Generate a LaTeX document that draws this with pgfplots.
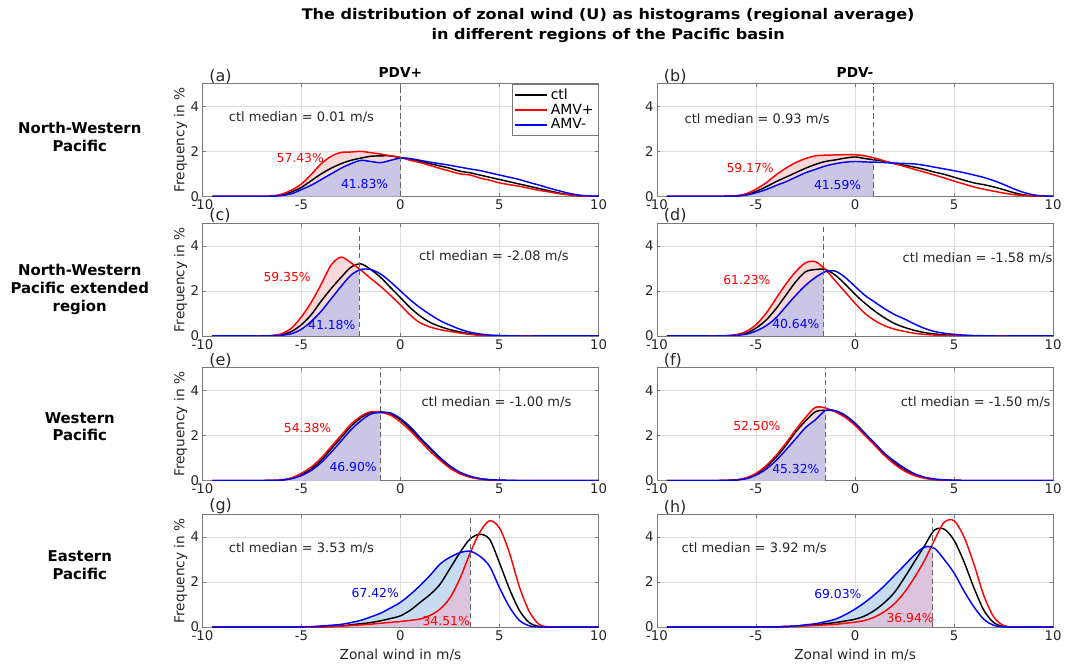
\documentclass[border=0pt]{standalone}
\usepackage{fontspec}
\setmainfont{DejaVu Sans}
\usepackage{pgfplots}
\pgfplotsset{compat=1.18}
\usepackage{pgfplotstable}
\usepgfplotslibrary{fillbetween}
\definecolor{pinkfill}{RGB}{248,216,216}
\definecolor{lavfill}{RGB}{203,198,230}
\definecolor{skyfill}{RGB}{198,220,243}
\definecolor{mauvefill}{RGB}{220,196,220}
\definecolor{framegray}{RGB}{120,120,120}
\definecolor{ticktext}{RGB}{38,38,38}
\definecolor{medgray}{RGB}{100,100,100}

\pgfplotstableread{
x c p m
-9.5 0 0 0
-9 0 0 0
-8.5 0 0 0
-8 0 0 0
-7.5 0 0 0
-7 0 0 0
-6.5 0.01 0.02 0.01
-6 0.06 0.1 0.04
-5.5 0.2 0.28 0.12
-5 0.4 0.55 0.3
-4.5 0.7 0.98 0.5
-4 1.0 1.45 0.75
-3.5 1.25 1.78 1.0
-3 1.45 1.95 1.25
-2.5 1.6 1.97 1.45
-2 1.7 2.0 1.6
-1.5 1.78 1.94 1.55
-1 1.8 1.88 1.5
-0.5 1.8 1.8 1.6
0 1.72 1.73 1.7
0.5 1.65 1.6 1.68
1 1.55 1.5 1.6
1.5 1.45 1.37 1.52
2 1.35 1.24 1.45
2.5 1.25 1.12 1.38
3 1.12 1.0 1.3
3.5 1.05 0.95 1.22
4 0.95 0.82 1.15
4.5 0.85 0.72 1.05
5 0.75 0.6 0.95
5.5 0.65 0.52 0.85
6 0.55 0.45 0.75
6.5 0.45 0.36 0.62
7 0.35 0.27 0.5
7.5 0.25 0.2 0.37
8 0.15 0.12 0.25
8.5 0.08 0.07 0.14
9 0.03 0.03 0.06
9.5 0.01 0.01 0.02
10 0 0 0.01
}\tA

\pgfplotstableread{
x c p m
-9.5 0 0 0
-9 0 0 0
-8.5 0 0 0
-8 0 0 0
-7.5 0 0 0
-7 0 0 0
-6.5 0.01 0.01 0.01
-6 0.02 0.03 0.02
-5.5 0.08 0.12 0.06
-5 0.22 0.32 0.16
-4.5 0.42 0.6 0.3
-4 0.65 0.95 0.48
-3.5 0.85 1.25 0.65
-3 1.05 1.5 0.85
-2.5 1.25 1.68 1.05
-2 1.42 1.8 1.2
-1.5 1.55 1.83 1.35
-1 1.62 1.84 1.45
-0.5 1.7 1.85 1.52
0 1.75 1.85 1.55
0.5 1.68 1.8 1.53
1 1.62 1.7 1.52
1.5 1.55 1.57 1.5
2 1.45 1.45 1.48
2.5 1.38 1.33 1.46
3 1.3 1.2 1.44
3.5 1.2 1.08 1.38
4 1.08 0.95 1.3
4.5 0.98 0.82 1.22
5 0.85 0.68 1.14
5.5 0.72 0.55 1.05
6 0.6 0.42 0.95
6.5 0.52 0.32 0.84
7 0.42 0.23 0.7
7.5 0.3 0.15 0.53
8 0.17 0.08 0.34
8.5 0.07 0.04 0.18
9 0.02 0.02 0.07
9.5 0.01 0.01 0.02
10 0 0 0.01
}\tB

\pgfplotstableread{
x c p m
-9.5 0 0 0
-9 0 0 0
-8.5 0 0 0
-8 0 0 0
-7.5 0 0 0
-7 0 0 0
-6.5 0.01 0.02 0.01
-6 0.06 0.1 0.03
-5.5 0.2 0.35 0.1
-5 0.5 0.85 0.3
-4.5 0.95 1.5 0.65
-4 1.55 2.3 1.1
-3.5 2.1 3.15 1.65
-3 2.6 3.5 2.2
-2.5 3.05 3.25 2.7
-2 3.2 2.93 2.95
-1.5 2.95 2.55 2.95
-1 2.6 2.2 2.75
-0.5 2.15 1.8 2.4
0 1.7 1.37 2.0
0.5 1.25 0.92 1.6
1 0.88 0.58 1.25
1.5 0.6 0.4 0.95
2 0.42 0.28 0.68
2.5 0.28 0.2 0.48
3 0.18 0.13 0.3
3.5 0.1 0.07 0.17
4 0.05 0.03 0.09
4.5 0.02 0.01 0.04
5 0.01 0 0.02
5.5 0 0 0.01
6 0 0 0
7 0 0 0
8 0 0 0
9 0 0 0
10 0 0 0
}\tC

\pgfplotstableread{
x c p m
-9.5 0 0 0
-9 0 0 0
-8.5 0 0 0
-8 0 0 0
-7.5 0 0 0
-7 0 0 0
-6.5 0.01 0.01 0.01
-6 0.04 0.06 0.03
-5.5 0.12 0.2 0.08
-5 0.35 0.5 0.22
-4.5 0.7 1.0 0.45
-4 1.2 1.65 0.8
-3.5 1.8 2.3 1.3
-3 2.4 2.85 1.8
-2.5 2.85 3.25 2.25
-2 2.95 3.3 2.6
-1.5 2.95 2.95 2.85
-1 2.7 2.45 2.88
-0.5 2.3 1.95 2.6
0 1.85 1.45 2.2
0.5 1.45 1.0 1.8
1 1.1 0.68 1.5
1.5 0.8 0.45 1.2
2 0.55 0.3 0.95
2.5 0.38 0.2 0.75
3 0.25 0.12 0.53
3.5 0.15 0.07 0.34
4 0.09 0.04 0.2
4.5 0.05 0.02 0.12
5 0.02 0.01 0.07
5.5 0.01 0 0.04
6 0 0 0.02
6.5 0 0 0.01
7 0 0 0
8 0 0 0
9 0 0 0
10 0 0 0
}\tD

\pgfplotstableread{
x c p m
-9.5 0 0 0
-9 0 0 0
-8.5 0 0 0
-8 0 0 0
-7.5 0 0 0
-7 0 0 0
-6.5 0.01 0.01 0
-6 0.02 0.03 0.02
-5.5 0.1 0.12 0.08
-5 0.27 0.32 0.22
-4.5 0.52 0.6 0.45
-4 0.9 1.0 0.8
-3.5 1.4 1.5 1.25
-3 1.9 2.0 1.75
-2.5 2.4 2.5 2.25
-2 2.78 2.85 2.65
-1.5 3.02 3.05 2.95
-1 3.05 3.02 3.02
-0.5 2.95 2.9 3.0
0 2.7 2.6 2.75
0.5 2.3 2.2 2.38
1 1.85 1.75 1.9
1.5 1.4 1.3 1.45
2 0.98 0.9 1.02
2.5 0.6 0.55 0.65
3 0.33 0.3 0.37
3.5 0.17 0.15 0.2
4 0.08 0.07 0.09
4.5 0.03 0.03 0.04
5 0.01 0.01 0.02
5.5 0 0 0.01
6 0 0 0
7 0 0 0
8 0 0 0
9 0 0 0
10 0 0 0
}\tE

\pgfplotstableread{
x c p m
-9.5 0 0 0
-9 0 0 0
-8.5 0 0 0
-8 0 0 0
-7.5 0 0 0
-7 0 0 0
-6.5 0.01 0.01 0
-6 0.03 0.03 0.02
-5.5 0.1 0.12 0.08
-5 0.28 0.32 0.24
-4.5 0.6 0.65 0.5
-4 1.02 1.1 0.88
-3.5 1.55 1.65 1.35
-3 2.15 2.25 1.85
-2.5 2.65 2.8 2.35
-2 3.05 3.25 2.7
-1.5 3.12 3.22 3.1
-1 3.08 3.05 3.1
-0.5 2.85 2.8 2.9
0 2.5 2.45 2.55
0.5 2.05 2.0 2.1
1 1.6 1.55 1.65
1.5 1.15 1.1 1.2
2 0.78 0.72 0.85
2.5 0.47 0.42 0.55
3 0.25 0.22 0.3
3.5 0.12 0.1 0.15
4 0.05 0.04 0.07
4.5 0.02 0.02 0.03
5 0.01 0.01 0.01
5.5 0 0 0
6 0 0 0
7 0 0 0
8 0 0 0
9 0 0 0
10 0 0 0
}\tF

\pgfplotstableread{
x c p m
-9.5 0 0 0
-9 0 0 0
-8 0 0 0
-7 0 0 0
-6 0 0 0
-5.5 0 0 0
-5 0 0 0.01
-4.5 0.01 0 0.02
-4 0.01 0.01 0.05
-3.5 0.03 0.02 0.08
-3 0.05 0.04 0.12
-2.5 0.1 0.07 0.2
-2 0.15 0.1 0.3
-1.5 0.2 0.13 0.45
-1 0.28 0.17 0.62
-0.5 0.38 0.21 0.85
0 0.5 0.25 1.1
0.5 0.75 0.3 1.45
1 1.1 0.36 1.85
1.5 1.45 0.52 2.3
2 1.9 0.8 2.8
2.5 2.6 1.3 3.1
3 3.3 2.15 3.3
3.5 3.9 3.25 3.37
4 4.12 4.2 3.15
4.5 3.9 4.72 2.7
5 2.85 4.4 1.75
5.5 1.7 3.3 0.9
6 0.75 1.8 0.3
6.5 0.2 0.7 0.06
7 0.03 0.12 0.01
7.5 0 0.01 0
8 0 0 0
9 0 0 0
10 0 0 0
}\tG

\pgfplotstableread{
x c p m
-9.5 0 0 0
-9 0 0 0
-8 0 0 0
-7 0 0 0
-6 0 0 0
-5.5 0 0 0
-5 0 0 0
-4.5 0 0 0.01
-4 0.01 0.01 0.01
-3.5 0.02 0.02 0.03
-3 0.04 0.03 0.05
-2.5 0.07 0.05 0.1
-2 0.1 0.07 0.15
-1.5 0.15 0.1 0.24
-1 0.2 0.12 0.35
-0.5 0.27 0.17 0.55
0 0.35 0.22 0.8
0.5 0.5 0.3 1.1
1 0.75 0.45 1.45
1.5 1.1 0.7 1.85
2 1.55 1.05 2.3
2.5 2.2 1.55 2.75
3 2.9 2.2 3.2
3.5 3.6 2.95 3.55
4 4.3 3.85 3.5
4.5 4.35 4.65 3.0
5 3.85 4.72 2.4
5.5 2.9 4.0 1.6
6 1.75 2.8 0.9
6.5 0.75 1.4 0.35
7 0.2 0.45 0.08
7.5 0.03 0.07 0.01
8 0 0 0
9 0 0 0
10 0 0 0
}\tH

\pgfplotsset{
  panel/.style={
    width=298pt, height=84.75pt, scale only axis,
    anchor=south west,
    xmin=-10, xmax=10, ymin=0, ymax=5,
    xtick={-10,-5,0,5,10}, ytick={0,2,4},
    grid=major,
    major grid style={black!13, line width=0.5pt},
    axis line style={framegray, line width=0.6pt},
    tick style={framegray, line width=0.5pt},
    major tick length=2.5pt,
    tick align=inside,
    tick label style={font=\fontsize{10}{11}\selectfont, text=ticktext},
    xticklabel style={yshift=1pt},
    yticklabel style={xshift=1pt},
    /pgf/number format/assume math mode=true,
    label style={font=\fontsize{10.3}{11}\selectfont, text=ticktext},
    ylabel style={at={(axis description cs:-0.055,0.5)}, anchor=center},
    xlabel style={at={(axis description cs:0.5,-0.245)}, anchor=center},
  },
  ctlline/.style={black, line width=1.1pt, smooth},
  pline/.style={red, line width=1.1pt, smooth},
  mline/.style={blue, line width=1.1pt, smooth},
}

\newcommand{\paths}[1]{%
  \addplot[draw=none, name path=base, forget plot] coordinates {(-10,0) (10,0)};
  \addplot[draw=none, name path=R, forget plot, smooth] table[x=x,y=p] {#1};
  \addplot[draw=none, name path=B, forget plot, smooth] table[x=x,y=m] {#1};
}
\newcommand{\topfills}[1]{%
  \addplot[pinkfill, forget plot] fill between[of=R and base, soft clip={domain=-10:#1}];
  \addplot[lavfill, forget plot] fill between[of=B and base, soft clip={domain=-10:#1}];
}
\newcommand{\botfills}[1]{%
  \addplot[skyfill, forget plot] fill between[of=B and base, soft clip={domain=-10:#1}];
  \addplot[mauvefill, forget plot] fill between[of=R and base, soft clip={domain=-10:#1}];
}
\newcommand{\medline}[1]{%
  \addplot[medgray, line width=0.9pt, dash pattern=on 4pt off 2.5pt, forget plot] coordinates {(#1,0) (#1,5)};
}
\newcommand{\lines}[2]{%
  \addplot[ctlline, forget plot] table[x=x,y=c] {#1};
  \addplot[pline, forget plot] table[x=x,y=p] {#1};
  \addplot[mline, forget plot] table[x=x,y=m] {#1};
  \medline{#2}
}
\newcommand{\lab}[1]{\fontsize{9.8}{11}\selectfont #1}
\newcommand{\pct}[1]{\fontsize{9.3}{10}\selectfont #1}

\begin{document}
\begin{tikzpicture}
\path (0,0) rectangle (799.5pt,-500.25pt);

\node[align=center, font=\bfseries\fontsize{11}{15}\selectfont] at (457.5pt,-19.5pt)
  {\scalebox{1.1}[1]{The distribution of zonal wind (U) as histograms (regional average)}\\
   \scalebox{1.1}[1]{in different regions of the Pacific basin}};

\node[align=center, font=\bfseries\fontsize{11.2}{13.5}\selectfont] at (60pt,-103pt) {North-Western\\Pacific};
\node[align=center, font=\bfseries\fontsize{11.2}{13.5}\selectfont] at (60pt,-217.5pt) {North-Western\\Pacific extended\\region};
\node[align=center, font=\bfseries\fontsize{11.2}{13.5}\selectfont] at (60pt,-321pt) {Western\\Pacific};
\node[align=center, font=\bfseries\fontsize{11.2}{13.5}\selectfont] at (60pt,-425.25pt) {Eastern\\Pacific};

% (a)
\begin{axis}[panel, name=pa, at={(152.25pt,-147.75pt)}, ylabel={Frequency in \%},
  legend style={at={(1,1)}, anchor=north east, draw=framegray, fill=white,
    font=\fontsize{10.5}{11}\selectfont, row sep=-2pt, inner sep=1.5pt},
  legend cell align=left,
  legend image code/.code={\draw[#1] (0pt,0pt) -- (24pt,0pt);}]
\paths{\tA}
\topfills{0.01}
\addplot[ctlline] table[x=x,y=c] {\tA}; \addlegendentry{ctl}
\addplot[pline] table[x=x,y=p] {\tA}; \addlegendentry{AMV+}
\addplot[mline] table[x=x,y=m] {\tA}; \addlegendentry{AMV-}
\medline{0.01}
\node[anchor=west, text=ticktext] at (axis cs:-8.9,3.5) {\lab{ctl median = 0.01 m/s}};
\node[red] at (axis cs:-5.06,1.72) {\pct{57.43\%}};
\node[blue] at (axis cs:-1.81,0.57) {\pct{41.83\%}};
\end{axis}

% (b)
\begin{axis}[panel, name=pb, at={(494.25pt,-147.75pt)}]
\paths{\tB}
\topfills{0.93}
\lines{\tB}{0.93}
\node[anchor=west, text=ticktext] at (axis cs:-8.84,3.45) {\lab{ctl median = 0.93 m/s}};
\node[red] at (axis cs:-5.3,1.27) {\pct{59.17\%}};
\node[blue] at (axis cs:-0.88,0.52) {\pct{41.59\%}};
\end{axis}

% (c)
\begin{axis}[panel, name=pc, at={(152.25pt,-252.75pt)}, ylabel={Frequency in \%}]
\paths{\tC}
\topfills{-2.08}
\lines{\tC}{-2.08}
\node[anchor=west, text=ticktext] at (axis cs:0.7,3.55) {\lab{ctl median = -2.08 m/s}};
\node[red] at (axis cs:-5.72,2.63) {\pct{59.35\%}};
\node[blue] at (axis cs:-3.47,0.48) {\pct{41.18\%}};
\end{axis}

% (d)
\begin{axis}[panel, name=pd, at={(494.25pt,-252.75pt)}]
\paths{\tD}
\topfills{-1.58}
\lines{\tD}{-1.58}
\node[anchor=west, text=ticktext] at (axis cs:2.17,3.45) {\lab{ctl median = -1.58 m/s}};
\node[red] at (axis cs:-5.46,2.48) {\pct{61.23\%}};
\node[blue] at (axis cs:-2.99,0.55) {\pct{40.64\%}};
\end{axis}

% (e)
\begin{axis}[panel, name=pe, at={(152.25pt,-361.5pt)}, ylabel={Frequency in \%}]
\paths{\tE}
\topfills{-1.00}
\lines{\tE}{-1.00}
\node[anchor=west, text=ticktext] at (axis cs:0.83,3.5) {\lab{ctl median = -1.00 m/s}};
\node[red] at (axis cs:-4.69,2.33) {\pct{54.38\%}};
\node[blue] at (axis cs:-2.39,0.6) {\pct{46.90\%}};
\end{axis}

% (f)
\begin{axis}[panel, name=pf, at={(494.25pt,-361.5pt)}]
\paths{\tF}
\topfills{-1.50}
\lines{\tF}{-1.50}
\node[anchor=west, text=ticktext] at (axis cs:2.07,3.5) {\lab{ctl median = -1.50 m/s}};
\node[red] at (axis cs:-4.96,2.42) {\pct{52.50\%}};
\node[blue] at (axis cs:-2.99,0.52) {\pct{45.32\%}};
\end{axis}

% (g)
\begin{axis}[panel, name=pg, at={(152.25pt,-471.75pt)}, ylabel={Frequency in \%}, xlabel={Zonal wind in m/s}]
\paths{\tG}
\botfills{3.53}
\lines{\tG}{3.53}
\node[anchor=west, text=ticktext] at (axis cs:-8.9,3.5) {\lab{ctl median = 3.53 m/s}};
\node[blue] at (axis cs:-1.27,1.53) {\pct{67.42\%}};
\node[red] at (axis cs:2.31,0.27) {\pct{34.51\%}};
\end{axis}

% (h)
\begin{axis}[panel, name=ph, at={(494.25pt,-471.75pt)}, xlabel={Zonal wind in m/s}]
\paths{\tH}
\botfills{3.92}
\lines{\tH}{3.92}
\node[anchor=west, text=ticktext] at (axis cs:-8.99,3.5) {\lab{ctl median = 3.92 m/s}};
\node[blue] at (axis cs:-0.87,1.45) {\pct{69.03\%}};
\node[red] at (axis cs:2.78,0.41) {\pct{36.94\%}};
\end{axis}

\foreach \n/\l in {pa/a,pb/b,pc/c,pd/d,pe/e,pf/f,pg/g,ph/h}{
  \node[anchor=south west, inner sep=1pt, xshift=4pt, yshift=-1pt, font=\fontsize{12}{13}\selectfont, text=ticktext] at (\n.north west) {(\l)};
}
\node[anchor=base, yshift=5pt, font=\bfseries\fontsize{10.3}{12}\selectfont] at (pa.north) {PDV+};
\node[anchor=base, yshift=5pt, font=\bfseries\fontsize{10.3}{12}\selectfont] at (pb.north) {PDV-};
\end{tikzpicture}
\end{document}
